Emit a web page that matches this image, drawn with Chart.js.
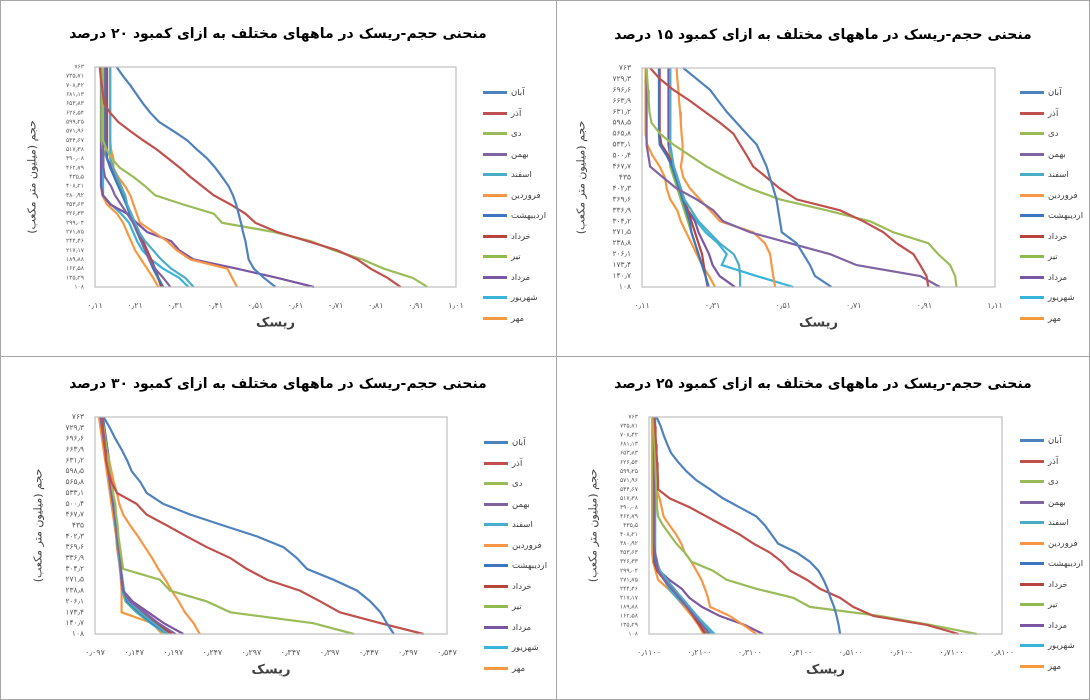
<!DOCTYPE html>
<html><head><meta charset="utf-8">
<script src="https://cdn.jsdelivr.net/npm/chart.js@4"></script>
<style>
body{margin:0;background:#fff;width:1090px;height:700px;overflow:hidden;position:relative;font-family:"DejaVu Sans",sans-serif}
.panel{position:absolute;border:1px solid #a6a6a6;box-sizing:border-box}
canvas{position:absolute}
.ttl{position:absolute;font-size:14px;font-weight:bold;color:#000;text-align:center;direction:rtl;line-height:18px}
.leg{position:absolute;font-size:8.5px;color:#404040}
.leg div{position:absolute;white-space:nowrap;height:12px;line-height:12px}
.leg span{display:inline-block;width:24px;height:3px;vertical-align:middle;margin-right:4px}
</style></head><body>
<div class="panel" style="left:0;top:0;width:557px;height:357px"></div>
<div class="panel" style="left:556px;top:0;width:534px;height:357px"></div>
<div class="panel" style="left:0;top:356px;width:557px;height:344px"></div>
<div class="panel" style="left:556px;top:356px;width:534px;height:344px"></div>
<script>
const months = ['آبان','آذر','دی','بهمن','اسفند','فروردین','اردیبهشت','خرداد','تیر','مرداد','شهریور','مهر'];
const colors = ['#4F81BD','#C0504D','#9BBB59','#8064A2','#4BACC6','#F79646','#3F74C0','#B9433F','#8FBA50','#7B57A3','#38B4D8','#F5993F'];

const volume21 = ['763','729.3','696.6','663.9','631.2','598.5','565.8','533.1','500.4','467.7','435','402.3','369.6','336.9','304.2','271.5','238.8','206.1','173.4','140.7','108'];
const volume25 = ['763','735.71','708.42','681.13','653.83','626.54','599.25','571.96','544.67','517.38','490.08','462.79','435.5','408.21','380.92','353.63','326.33','299.04','271.75','244.46','217.17','189.88','162.58','135.29','108'];

// 15% deficit (21 points)
const risk15 = [
 [0.227,0.265,0.303,0.326,0.35,0.378,0.406,0.435,0.449,0.463,0.472,0.482,0.491,0.496,0.501,0.506,0.548,0.567,0.586,0.6,0.647],
 [0.133,0.161,0.199,0.246,0.288,0.331,0.369,0.388,0.407,0.425,0.463,0.5,0.548,0.671,0.737,0.794,0.831,0.879,0.898,0.916,0.921],
 [0.123,0.125,0.127,0.129,0.131,0.137,0.161,0.199,0.246,0.293,0.35,0.416,0.501,0.633,0.756,0.822,0.921,0.949,0.983,0.997,1.001],
 [0.123,0.123,0.123,0.123,0.123,0.123,0.123,0.123,0.128,0.133,0.17,0.208,0.265,0.312,0.34,0.416,0.529,0.643,0.718,0.898,0.954],
 [0.19,0.19,0.19,0.19,0.19,0.19,0.19,0.19,0.195,0.2,0.21,0.22,0.23,0.25,0.27,0.3,0.33,0.37,0.385,0.388,0.388],
 [0.208,0.21,0.213,0.215,0.218,0.22,0.222,0.225,0.225,0.22,0.227,0.246,0.274,0.303,0.331,0.425,0.458,0.473,0.477,0.482,0.487],
 [0.158,0.158,0.158,0.158,0.158,0.158,0.158,0.16,0.18,0.195,0.205,0.215,0.225,0.235,0.245,0.25,0.26,0.27,0.28,0.29,0.298],
 [0.16,0.16,0.16,0.16,0.16,0.16,0.16,0.165,0.185,0.2,0.21,0.22,0.23,0.24,0.25,0.26,0.27,0.28,0.285,0.29,0.296],
 [0.19,0.19,0.19,0.19,0.19,0.19,0.19,0.19,0.19,0.19,0.2,0.21,0.22,0.23,0.24,0.25,0.26,0.27,0.28,0.29,0.3],
 [0.185,0.185,0.185,0.185,0.185,0.185,0.185,0.185,0.19,0.2,0.21,0.22,0.225,0.24,0.26,0.27,0.285,0.3,0.31,0.33,0.373],
 [0.19,0.19,0.19,0.19,0.19,0.19,0.19,0.19,0.19,0.2,0.21,0.215,0.22,0.24,0.265,0.29,0.325,0.35,0.336,0.435,0.539],
 [0.12,0.12,0.12,0.12,0.12,0.12,0.12,0.125,0.14,0.16,0.175,0.18,0.19,0.21,0.22,0.235,0.25,0.265,0.28,0.3,0.317]
];
// 20% deficit (25 points)
const risk20 = [
 [0.164,0.18,0.198,0.214,0.23,0.248,0.27,0.306,0.34,0.364,0.39,0.41,0.427,0.443,0.454,0.462,0.468,0.474,0.479,0.485,0.489,0.493,0.506,0.531,0.56],
 [0.122,0.124,0.127,0.13,0.133,0.148,0.168,0.198,0.23,0.264,0.293,0.322,0.348,0.377,0.406,0.448,0.485,0.51,0.564,0.64,0.714,0.764,0.797,0.839,0.872],
 [0.13,0.13,0.13,0.13,0.13,0.13,0.13,0.13,0.13,0.139,0.152,0.172,0.206,0.235,0.26,0.33,0.406,0.427,0.556,0.648,0.706,0.777,0.83,0.902,0.939],
 [0.131,0.131,0.131,0.131,0.131,0.131,0.131,0.131,0.131,0.131,0.131,0.131,0.135,0.15,0.16,0.175,0.19,0.205,0.215,0.225,0.235,0.245,0.26,0.28,0.298],
 [0.148,0.148,0.148,0.148,0.148,0.148,0.148,0.148,0.148,0.148,0.148,0.155,0.165,0.175,0.185,0.19,0.2,0.21,0.22,0.235,0.255,0.275,0.3,0.335,0.356],
 [0.148,0.148,0.148,0.148,0.148,0.148,0.148,0.148,0.148,0.15,0.156,0.156,0.168,0.185,0.198,0.206,0.214,0.222,0.256,0.29,0.314,0.348,0.44,0.452,0.464],
 [0.136,0.136,0.136,0.136,0.136,0.136,0.136,0.136,0.136,0.138,0.14,0.148,0.158,0.168,0.178,0.188,0.196,0.205,0.215,0.225,0.235,0.245,0.255,0.268,0.28],
 [0.14,0.14,0.14,0.14,0.14,0.14,0.14,0.14,0.14,0.14,0.142,0.152,0.165,0.175,0.185,0.19,0.2,0.21,0.22,0.23,0.24,0.25,0.26,0.268,0.275],
 [0.126,0.126,0.126,0.126,0.126,0.126,0.126,0.126,0.127,0.13,0.14,0.15,0.16,0.17,0.18,0.188,0.197,0.206,0.215,0.225,0.235,0.245,0.255,0.266,0.277],
 [0.125,0.125,0.125,0.125,0.125,0.125,0.125,0.125,0.125,0.125,0.125,0.125,0.125,0.125,0.13,0.148,0.19,0.214,0.24,0.3,0.32,0.356,0.464,0.564,0.656],
 [0.13,0.13,0.13,0.13,0.13,0.13,0.13,0.13,0.13,0.13,0.13,0.13,0.13,0.13,0.132,0.15,0.175,0.195,0.205,0.215,0.228,0.25,0.28,0.32,0.343],
 [0.125,0.125,0.125,0.125,0.125,0.125,0.125,0.125,0.125,0.125,0.125,0.125,0.125,0.125,0.128,0.14,0.165,0.18,0.19,0.2,0.21,0.225,0.24,0.255,0.268]
];
// 25% deficit (25 points)
const risk25 = [
 [0.125,0.133,0.139,0.146,0.154,0.168,0.184,0.204,0.231,0.257,0.29,0.323,0.34,0.353,0.366,0.403,0.429,0.446,0.456,0.464,0.47,0.477,0.482,0.486,0.489],
 [0.121,0.122,0.123,0.124,0.125,0.126,0.127,0.128,0.128,0.151,0.191,0.224,0.257,0.29,0.317,0.35,0.373,0.39,0.423,0.449,0.489,0.515,0.555,0.661,0.724],
 [0.118,0.119,0.12,0.121,0.122,0.123,0.123,0.124,0.125,0.126,0.126,0.128,0.138,0.151,0.164,0.181,0.194,0.237,0.264,0.323,0.396,0.429,0.568,0.668,0.76],
 [0.12,0.12,0.12,0.12,0.12,0.12,0.12,0.12,0.12,0.12,0.12,0.12,0.12,0.12,0.12,0.122,0.125,0.128,0.14,0.155,0.17,0.185,0.2,0.215,0.23],
 [0.122,0.122,0.122,0.122,0.122,0.122,0.122,0.122,0.122,0.122,0.122,0.122,0.122,0.122,0.122,0.123,0.125,0.132,0.145,0.16,0.175,0.19,0.205,0.22,0.235],
 [0.118,0.119,0.12,0.121,0.122,0.123,0.124,0.125,0.125,0.131,0.135,0.139,0.151,0.164,0.174,0.181,0.194,0.204,0.214,0.221,0.227,0.231,0.27,0.297,0.323],
 [0.121,0.121,0.121,0.121,0.121,0.121,0.121,0.121,0.121,0.121,0.121,0.121,0.121,0.121,0.121,0.121,0.122,0.13,0.142,0.158,0.175,0.19,0.205,0.218,0.228],
 [0.12,0.12,0.12,0.12,0.12,0.12,0.12,0.12,0.12,0.12,0.12,0.12,0.12,0.12,0.12,0.12,0.121,0.126,0.14,0.155,0.17,0.185,0.198,0.21,0.222],
 [0.119,0.119,0.119,0.119,0.119,0.119,0.119,0.119,0.119,0.119,0.119,0.119,0.119,0.119,0.119,0.12,0.122,0.13,0.145,0.16,0.172,0.186,0.2,0.214,0.226],
 [0.121,0.121,0.121,0.121,0.121,0.121,0.121,0.121,0.121,0.121,0.121,0.121,0.121,0.121,0.121,0.122,0.126,0.13,0.15,0.175,0.19,0.215,0.25,0.3,0.336],
 [0.122,0.122,0.122,0.122,0.122,0.122,0.122,0.122,0.122,0.122,0.122,0.122,0.122,0.122,0.122,0.122,0.123,0.132,0.14,0.15,0.165,0.185,0.205,0.222,0.24],
 [0.116,0.116,0.116,0.116,0.116,0.116,0.116,0.116,0.116,0.116,0.116,0.116,0.116,0.116,0.116,0.116,0.118,0.123,0.128,0.148,0.165,0.18,0.195,0.208,0.218]
];
// 30% deficit (21 points)
const risk30 = [
 [0.108,0.116,0.123,0.131,0.138,0.144,0.155,0.163,0.184,0.219,0.261,0.304,0.338,0.355,0.368,0.402,0.432,0.449,0.462,0.47,0.479],
 [0.106,0.107,0.109,0.11,0.111,0.114,0.118,0.125,0.15,0.163,0.189,0.214,0.24,0.27,0.291,0.317,0.359,0.385,0.41,0.462,0.517],
 [0.106,0.108,0.11,0.112,0.114,0.116,0.118,0.12,0.123,0.124,0.126,0.127,0.129,0.131,0.133,0.18,0.193,0.24,0.27,0.376,0.428],
 [0.104,0.106,0.108,0.11,0.112,0.114,0.116,0.118,0.12,0.122,0.124,0.125,0.127,0.129,0.13,0.131,0.133,0.142,0.16,0.178,0.2],
 [0.106,0.108,0.11,0.112,0.114,0.116,0.117,0.119,0.12,0.122,0.123,0.125,0.126,0.128,0.129,0.131,0.134,0.14,0.155,0.172,0.19],
 [0.103,0.106,0.109,0.112,0.115,0.118,0.121,0.125,0.128,0.133,0.142,0.152,0.161,0.17,0.178,0.187,0.195,0.204,0.212,0.223,0.231],
 [0.107,0.109,0.111,0.113,0.115,0.117,0.118,0.12,0.121,0.123,0.124,0.126,0.127,0.129,0.13,0.132,0.134,0.138,0.153,0.17,0.19],
 [0.105,0.107,0.109,0.111,0.113,0.115,0.117,0.118,0.12,0.122,0.123,0.125,0.126,0.128,0.129,0.131,0.133,0.14,0.156,0.175,0.195],
 [0.106,0.108,0.11,0.112,0.114,0.116,0.118,0.12,0.121,0.123,0.124,0.126,0.127,0.129,0.13,0.132,0.134,0.137,0.152,0.17,0.19],
 [0.104,0.106,0.108,0.11,0.112,0.114,0.116,0.118,0.12,0.122,0.124,0.125,0.127,0.128,0.13,0.131,0.133,0.145,0.165,0.185,0.21],
 [0.107,0.109,0.111,0.113,0.115,0.117,0.118,0.12,0.121,0.123,0.124,0.126,0.127,0.129,0.13,0.131,0.132,0.136,0.15,0.168,0.188],
 [0.102,0.104,0.106,0.108,0.11,0.112,0.114,0.116,0.118,0.12,0.122,0.124,0.125,0.127,0.129,0.13,0.131,0.131,0.131,0.17,0.183]
];

const xTicks15 = [0.11,1.11,0.2,2];
const xTicks20 = [0.11,1.01,0.1,2];
const xTicks25 = [0.11,0.81,0.1,4];
const xTicks30 = [0.097,0.547,0.05,3];

const titles = {
 15:'منحنی حجم-ریسک در ماههای مختلف به ازای کمبود ۱۵ درصد',
 20:'منحنی حجم-ریسک در ماههای مختلف به ازای کمبود ۲۰ درصد',
 25:'منحنی حجم-ریسک در ماههای مختلف به ازای کمبود ۲۵ درصد',
 30:'منحنی حجم-ریسک در ماههای مختلف به ازای کمبود ۳۰ درصد'
};
const yTitle = 'حجم (میلیون متر مکعب)';
const xTitle = 'ریسک';

function fa(s){return String(s).replace(/[0-9]/g,d=>'۰۱۲۳۴۵۶۷۸۹'[d]).replace(/\./g,'٫');}

const boxPlugin={id:'box',afterDraw(c){const a=c.chartArea,ctx=c.ctx;ctx.save();ctx.strokeStyle='#bfbfbf';ctx.lineWidth=1.2;ctx.strokeRect(a.left,a.top,a.right-a.left,a.bottom-a.top);ctx.restore();}};

function make(o){
  const cv=document.createElement('canvas');
  cv.style.left=o.x+'px';cv.style.top=o.y+'px';
  cv.style.width=o.w+'px';cv.style.height=o.h+'px';
  document.body.appendChild(cv);
  const t=document.createElement('div');t.className='ttl';
  t.style.left=o.x+'px';t.style.width=o.w+'px';t.style.top=(o.y+o.ty-9)+'px';t.textContent=o.title;
  document.body.appendChild(t);
  const [mn,mx,st,dec]=o.ticks;
  const xh=44;
  new Chart(cv,{type:'line',
   data:{labels:o.labels.map(fa),datasets:o.data.map((d,i)=>({label:months[i],data:d,borderColor:colors[i],backgroundColor:colors[i],borderWidth:2.2,pointRadius:0,tension:0}))},
   options:{indexAxis:'y',responsive:false,animation:false,devicePixelRatio:2,
    layout:{padding:{left:o.pl,right:o.w-o.R,top:o.T,bottom:o.h-o.B-xh}},
    plugins:{legend:{display:false},tooltip:{enabled:false},title:{display:false}},
    scales:{
     y:{type:'category',offset:false,grid:{display:false},border:{color:'#bfbfbf'},
        ticks:{autoSkip:false,font:{family:'DejaVu Sans',size:o.labels.length>21?6:7.5},color:'#595959',padding:3},
        title:{display:true,text:yTitle,font:{family:'DejaVu Sans',size:11},color:'#404040',padding:2},
        afterFit(s){s.width=o.L-o.pl;}},
     x:{type:'linear',min:mn,max:mx,grid:{display:false},border:{color:'#bfbfbf'},
        ticks:{stepSize:st,font:{family:'DejaVu Sans',size:8},color:'#595959',padding:6,callback:v=>fa(v.toFixed(dec))},
        afterBuildTicks(s){const t=[];for(let k=0;k<=Math.round((mx-mn)/st);k++)t.push({value:+(mn+k*st).toFixed(6)});s.ticks=t;},
        title:{display:true,text:xTitle,font:{family:'DejaVu Sans',size:13,weight:'bold'},color:'#404040',padding:{top:6,bottom:0}},
        afterFit(s){s.height=xh;}}
    }},plugins:[boxPlugin]});
  const lg=document.createElement('div');lg.className='leg';lg.style.left=o.lx+'px';lg.style.top=o.ly+'px';
  months.forEach((m,i)=>{const d=document.createElement('div');d.style.top=(i*20.5-6)+'px';d.innerHTML='<span style="background:'+colors[i]+'"></span>'+m;lg.appendChild(d);});
  document.body.appendChild(lg);
}
make({x:1,y:1,w:554,h:354,pl:23,L:94,R:455,T:66,B:286,ty:32,labels:volume25,data:risk20,ticks:xTicks20,title:titles[20],lx:483,ly:92});
make({x:557,y:1,w:532,h:354,pl:16,L:85,R:438,T:67,B:286,ty:33,labels:volume21,data:risk15,ticks:xTicks15,title:titles[15],lx:1020,ly:92});
make({x:1,y:358,w:554,h:341,pl:29,L:94,R:446,T:59,B:276,ty:25,labels:volume21,data:risk30,ticks:xTicks30,title:titles[30],lx:484,ly:442});
make({x:557,y:358,w:532,h:341,pl:28,L:92,R:445,T:59,B:276,ty:25,labels:volume25,data:risk25,ticks:xTicks25,title:titles[25],lx:1020,ly:440});
</script></body></html>
